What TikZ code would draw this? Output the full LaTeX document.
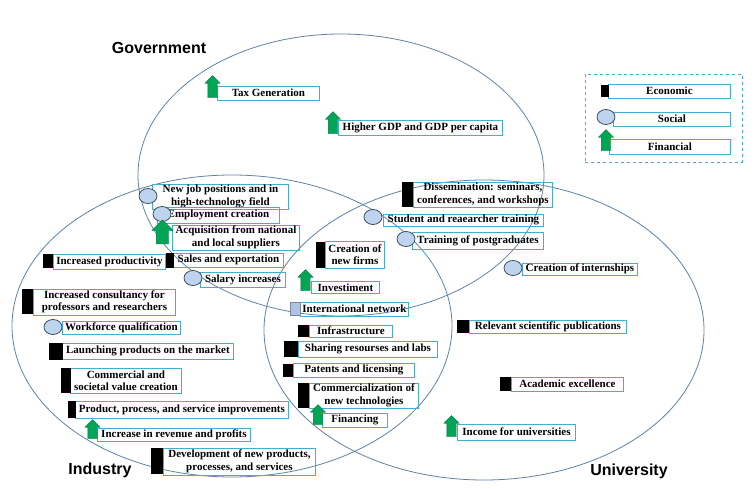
\documentclass[tikz,border=0pt]{standalone}
\usepackage{fontspec}
\setmainfont{Liberation Serif}
\setsansfont{Liberation Sans}
\usetikzlibrary{shapes.geometric,shapes.arrows}
\definecolor{ringblue}{RGB}{95,130,165}
\definecolor{boxblue}{RGB}{70,172,210}
\definecolor{socblue}{RGB}{190,212,238}
\definecolor{socedge}{RGB}{45,60,80}
\definecolor{fingreen}{RGB}{0,165,85}
\definecolor{netblue}{RGB}{175,195,228}
\tikzset{
	ring/.style={draw=ringblue, line width=0.8pt},
	itembox/.style={draw=boxblue, line width=0.9pt, anchor=west, align=center, inner xsep=1pt, inner ysep=0.5pt, font=\fontsize{11}{12.5}\selectfont\bfseries},
	eco/.style={fill=black, inner sep=0pt},
	soc/.style={ellipse, draw=socedge, fill=socblue, line width=0.7pt, minimum width=18pt, minimum height=15pt, inner sep=0pt},
	fin/.style={single arrow, shape border rotate=90, fill=fingreen, draw=fingreen!70!black, line width=0.3pt, single arrow head extend=3pt, single arrow head indent=0pt, minimum width=15pt, minimum height=21pt, inner sep=4.5pt},
	netsq/.style={fill=netblue, draw=netblue!70!black, line width=0.4pt, inner sep=0pt},
	legendbox/.style={draw=boxblue, dashed, line width=0.8pt},
	sector/.style={font=\sffamily\bfseries\fontsize{16}{18}\selectfont}
}
\begin{document}
\begin{tikzpicture}[x=1pt,y=-1pt]
	\useasboundingbox (0,0) rectangle (754,489);
\draw[ring] (341,175) ellipse [x radius=203pt, y radius=141pt];
\draw[ring] (232,326) ellipse [x radius=220pt, y radius=151pt];
\draw[ring] (484,330) ellipse [x radius=220pt, y radius=150pt];
\node[sector] (G) at (159,48) {Government};
\node[sector] (I) at (100,470) {Industry};
\node[sector] (U) at (629,471) {University};

\node[itembox, minimum width=102, minimum height=14] (tax) at (217,93) {Tax Generation};
\node[fin, minimum height=22] (taxi) at (212.5,89) {};
\node[itembox, minimum width=164, minimum height=15] (gdp) at (338,127.5) {Higher GDP and GDP per capita};
\node[fin, minimum height=22] (gdpi) at (333,125) {};

\node[itembox, minimum width=136, minimum height=25] (job) at (152,196.5) {New job positions and in\\high-technology field};
\node[soc] (jobi) at (148,196) {};
\node[itembox, minimum width=122, minimum height=16] (emp) at (157,215) {Employment creation};
\node[soc] (empi) at (162,214) {};
\node[itembox, minimum width=127, minimum height=25] (acq) at (172,237.5) {Acquisition from national\\and local suppliers};
\node[fin, inner sep=6pt, single arrow head extend=4.5pt, minimum width=21, minimum height=24] (acqi) at (162.5,235) {};
\node[itembox, minimum width=110, minimum height=14] (sal) at (173,260) {Sales and exportation};
\node[eco, minimum width=8, minimum height=15] (sali) at (170,260.5) {};
\node[itembox, minimum width=85, minimum height=15] (pay) at (200,279.5) {Salary increases};
\node[soc] (payi) at (193,278) {};

\node[itembox, minimum width=112, minimum height=15] (pro) at (53,261.5) {Increased productivity};
\node[eco, minimum width=10, minimum height=14] (proi) at (48,261) {};
\node[itembox, minimum width=142, minimum height=26] (con) at (33,302) {Increased consultancy for\\professors and researchers};
\node[eco, minimum width=11, minimum height=25] (coni) at (27.5,301.5) {};
\node[itembox, minimum width=118, minimum height=13] (wor) at (62,328) {Workforce qualification};
\node[soc] (wori) at (53,327) {};
\node[itembox, minimum width=171, minimum height=16] (lau) at (62,351) {Launching products on the market};
\node[eco, minimum width=14, minimum height=17] (laui) at (56,351.5) {};
\node[itembox, minimum width=111, minimum height=25] (val) at (70,380.5) {Commercial and\\societal value creation};
\node[eco, minimum width=10, minimum height=25] (vali) at (66,380.5) {};
\node[itembox, minimum width=213, minimum height=17] (imp) at (75,409.5) {Product, process, and service improvements};
\node[eco, minimum width=8, minimum height=17] (impi) at (72,409.5) {};
\node[itembox, minimum width=153, minimum height=13] (rev) at (97,434.5) {Increase in revenue and profits};
\node[fin, minimum height=19] (revi) at (92.5,431.5) {};
\node[itembox, minimum width=152, minimum height=27] (dev) at (163,461.5) {Development of new products,\\processes, and services};
\node[eco, minimum width=12, minimum height=26] (devi) at (157,461) {};

\node[itembox, minimum width=59, minimum height=27] (fir) at (325,254.5) {Creation of\\new firms};
\node[eco, minimum width=9, minimum height=26] (firi) at (320.5,255) {};
\node[itembox, minimum width=68, minimum height=12] (inv) at (311,287.5) {Investiment};
\node[fin] (invi) at (305.5,282.5) {};
\node[itembox, minimum width=108, minimum height=14] (net) at (300,309) {International network};
\node[netsq, minimum width=10, minimum height=13] (neti) at (295,308.5) {};

\node[itembox, minimum width=139, minimum height=25] (dis) at (413,194.5) {Dissemination: seminars,\\conferences, and workshops};
\node[eco, minimum width=11, minimum height=25] (disi) at (407.5,194.5) {};
\node[itembox, minimum width=160, minimum height=12] (stu) at (383,220) {Student and reaearcher training};
\node[soc] (stui) at (373,217) {};
\node[itembox, minimum width=131, minimum height=17] (pos) at (412,240.5) {Training of postgraduates};
\node[soc] (posi) at (406,239) {};

\node[itembox, minimum width=83, minimum height=12] (inf) at (309,331) {Infrastructure};
\node[eco, minimum width=11, minimum height=12] (infi) at (303.5,331) {};
\node[itembox, minimum width=139, minimum height=16] (sha) at (298,349) {Sharing resourses and labs};
\node[eco, minimum width=14, minimum height=16] (shai) at (291,349) {};
\node[itembox, minimum width=121, minimum height=14] (pat) at (293,370) {Patents and licensing};
\node[eco, minimum width=10, minimum height=13] (pati) at (288,370.5) {};
\node[itembox, minimum width=109, minimum height=25] (tec) at (309,395.5) {Commercialization of\\new technologies};
\node[eco, minimum width=11, minimum height=25] (teci) at (303.5,395.5) {};
\node[itembox, minimum width=65, minimum height=14] (fnc) at (322,420) {Financing};
\node[fin, minimum height=20] (fnci) at (318,417) {};

\node[itembox, minimum width=115, minimum height=12] (int) at (522,269) {Creation of internships};
\node[soc] (inti) at (513,268) {};
\node[itembox, minimum width=157, minimum height=13] (pub) at (469,326.5) {Relevant scientific publications};
\node[eco, minimum width=12, minimum height=13] (pubi) at (463,326.5) {};
\node[itembox, minimum width=112, minimum height=14] (exc) at (511,384) {Academic excellence};
\node[eco, minimum width=11, minimum height=14] (exci) at (505.5,384) {};
\node[itembox, minimum width=118, minimum height=16] (inc) at (457,432) {Income for universities};
\node[fin] (inci) at (451.5,428.5) {};

\node[legendbox, minimum width=157, minimum height=88] (L) at (663.5,118) {};
\node[itembox, minimum width=122, minimum height=14] (leco) at (608,91) {Economic};
\node[eco, minimum width=8, minimum height=12] (lecoi) at (605,91) {};
\node[itembox, minimum width=117, minimum height=14] (lsoc) at (613,119) {Social};
\node[soc] (lsoci) at (606,117) {};
\node[itembox, minimum width=121, minimum height=15] (lfin) at (609,146.5) {Financial};
\node[fin] (lfini) at (606,142.5) {};

\end{tikzpicture}
\end{document}
